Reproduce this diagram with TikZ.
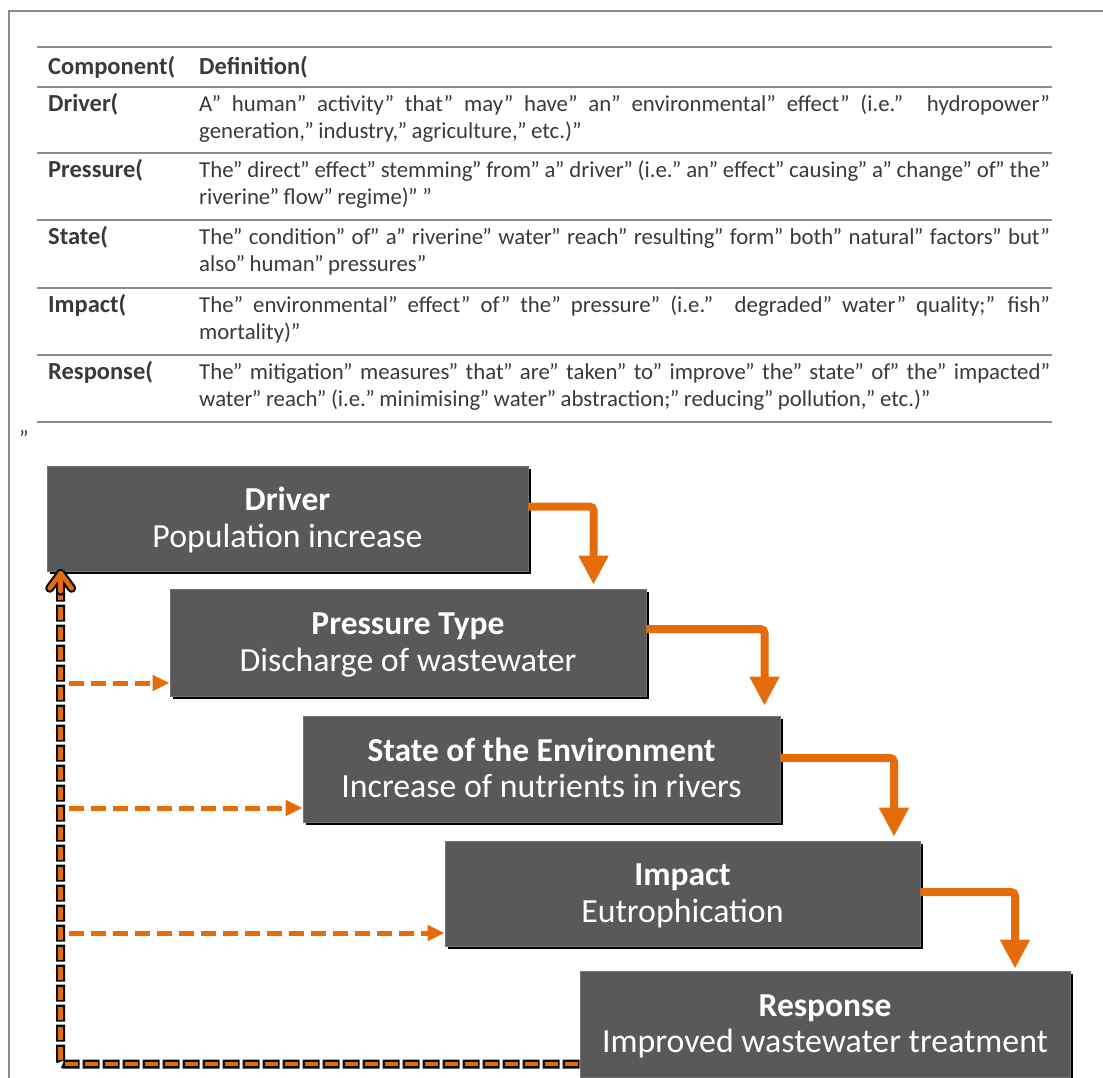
\documentclass[tikz,border=0pt]{standalone}
\usepackage{fontspec}
\setmainfont{Carlito}
\usetikzlibrary{arrows.meta,calc,shadows}
\definecolor{boxgray}{HTML}{595959}
\definecolor{orng}{HTML}{E46C0A}
\definecolor{rulegray}{HTML}{8C8C8C}
\definecolor{framegray}{HTML}{8A8A8A}
\definecolor{txtgray}{HTML}{3A3A3A}
\newcommand{\qq}{\hskip-0.03em”\hskip 0.2em plus 1fil\relax}
\newcommand{\fullline}[1]{\makebox[851pt][s]{#1}}
\begin{document}
\begin{tikzpicture}[x=1pt,y=-1pt,
  tbl/.style={font=\fontsize{22.8}{28}\selectfont, text=txtgray, inner sep=0pt, anchor=base west},
  tblh/.style={tbl, font=\fontsize{24.5}{28}\selectfont\bfseries},
  tblrule/.style={draw=rulegray, line width=1.8pt},
  stage/.style={fill=boxgray, draw=black!55, line width=0.6pt, inner sep=0pt,
    drop shadow={shadow xshift=3pt, shadow yshift=-3pt, fill=black, opacity=1}},
  ttl/.style={font=\fontsize{33.5}{38}\selectfont\bfseries, text=white, inner sep=0pt, anchor=base},
  sub/.style={font=\fontsize{33.8}{38}\selectfont, text=white, inner sep=0pt, anchor=base},
  flow/.style={draw=orng, line width=8pt, rounded corners=4pt, -{Triangle[length=29pt,width=28pt]}},
  fbdash/.style={draw=orng, line width=5pt, dash pattern=on 15pt off 7pt, -{Triangle[length=17pt,width=15pt]}},
  fbout/.style={draw=black!95, line width=9pt, dash pattern=on 17pt off 3pt, rounded corners=3pt},
  fbin/.style={draw=orng, line width=4.5pt, dash pattern=on 13pt off 7pt, dash phase=18pt, rounded corners=3pt},
  chevout/.style={draw=black!95, line width=9pt, line join=round, line cap=round},
  chevin/.style={draw=orng, line width=4.5pt, line join=round, line cap=round}
]
\useasboundingbox (0,0) rectangle (1103,1077);
\fill[white] (0,0) rectangle (1103,1077);

% frame
\draw[draw=framegray, line width=2pt] (9,1080) -- (9,11) -- (1106,11);

% table rules
\foreach \yy in {47,87,153,220,288,355,422}
  \draw[tblrule] (37,\yy) -- (1052,\yy);

% table text
\node[tblh] (h1) at (48,74) {Component(};
\node[tblh] (h2) at (199,74) {Definition(};

\node[tblh] (c1) at (48,111) {Driver(};
\node[tbl] (d1a) at (199,111) {\fullline{A” human” activity” that” may” have” an” environmental” effect” (i.e.” hydropower”}};
\node[tbl] (d1b) at (199,138) {generation,\qq industry,\qq agriculture,\qq etc.)”};

\node[tblh] (c2) at (48,177) {Pressure(};
\node[tbl] (d2a) at (199,177) {\fullline{The\qq direct\qq effect\qq stemming\qq from\qq a\qq driver\qq (i.e.\qq an\qq effect\qq causing\qq a\qq change\qq of\qq the”}};
\node[tbl] (d2b) at (199,204) {riverine\qq flow\qq regime)\qq ”};

\node[tblh] (c3) at (48,244) {State(};
\node[tbl] (d3a) at (199,244) {\fullline{The\qq condition\qq of\qq a\qq riverine\qq water\qq reach\qq resulting\qq form\qq both\qq natural\qq factors\qq but”}};
\node[tbl] (d3b) at (199,271) {also\qq human\qq pressures”};

\node[tblh] (c4) at (48,312) {Impact(};
\node[tbl] (d4a) at (199,312) {\fullline{The” environmental” effect” of” the” pressure” (i.e.” degraded” water” quality;” fish”}};
\node[tbl] (d4b) at (199,339) {mortality)”};

\node[tblh] (c5) at (48,379) {Response(};
\node[tbl] (d5a) at (199,379) {\fullline{The\qq mitigation\qq measures\qq that\qq are\qq taken\qq to\qq improve\qq the\qq state\qq of\qq the\qq impacted”}};
\node[tbl] (d5b) at (199,406) {water\qq reach\qq (i.e.\qq minimising\qq water\qq abstraction;\qq reducing\qq pollution,\qq etc.)”};

\node[tbl] (stray) at (19,446) {”};

% stage boxes
\node[stage, minimum width=481pt, minimum height=105pt] (drv) at (287.5,518.5) {};
\node[stage, minimum width=476pt, minimum height=107pt] (pres) at (408,642.5) {};
\node[stage, minimum width=477pt, minimum height=106pt] (st) at (541.5,769) {};
\node[stage, minimum width=475pt, minimum height=105pt] (imp) at (682.5,893.5) {};
\node[stage, minimum width=490pt, minimum height=106pt] (resp) at (825,1024) {};

\node[ttl] (drvT) at ($(drv.center)+(0,-8)$) {Driver};
\node[sub] (drvS) at ($(drv.center)+(0,28.5)$) {Population increase};
\node[ttl] (presT) at ($(pres.center)+(0,-8)$) {Pressure Type};
\node[sub] (presS) at ($(pres.center)+(0,28.5)$) {Discharge of wastewater};
\node[ttl] (stT) at ($(st.center)+(0,-8)$) {State of the Environment};
\node[sub] (stS) at ($(st.center)+(0,28.5)$) {Increase of nutrients in rivers};
\node[ttl] (impT) at ($(imp.center)+(0,-8)$) {Impact};
\node[sub] (impS) at ($(imp.center)+(0,28.5)$) {Eutrophication};
\node[ttl] (respT) at ($(resp.center)+(0,-8)$) {Response};
\node[sub] (respS) at ($(resp.center)+(0,28.5)$) {Improved wastewater treatment};

% solid flow arrows
\draw[flow, shorten >=4pt] ([yshift=12pt]drv.east) -| ([xshift=185.5pt]pres.north);
\draw[flow, shorten >=10pt] ([yshift=13.5pt]pres.east) -| ([xshift=223pt]st.north);
\draw[flow, shorten >=4pt] ([yshift=11pt]st.east) -| ([xshift=211.5pt]imp.north);
\draw[flow, shorten >=2pt] ([yshift=1.5pt]imp.east) -| ([xshift=190pt]resp.north);

% feedback loop
\coordinate (fbtip) at ([xshift=14pt]drv.south west);
\coordinate (fbx) at (69,0);
\draw[fbout] ([yshift=-40pt]resp.west) -| ([yshift=-8pt]fbtip);
\draw[fbin] ([yshift=-40pt]resp.west) -| ([yshift=-8pt]fbtip);
\draw[chevout] ($(fbtip)+(-11,17)$) -- ($(fbtip)+(0,2)$) -- ($(fbtip)+(11,17)$);
\draw[chevout] ($(fbtip)+(0,2)$) -- ($(fbtip)+(0,20)$);
\draw[chevin] ($(fbtip)+(-11,17)$) -- ($(fbtip)+(0,2)$) -- ($(fbtip)+(11,17)$);
\draw[chevin] ($(fbtip)+(0,2)$) -- ($(fbtip)+(0,20)$);

\coordinate (pin) at ([yshift=-40.5pt]pres.west);
\coordinate (sin) at ([yshift=-39pt]st.west);
\coordinate (iin) at ([yshift=-39.5pt]imp.west);
\draw[fbdash] (pin -| fbx) -- (pin);
\draw[fbdash] (sin -| fbx) -- (sin);
\draw[fbdash] (iin -| fbx) -- (iin);
\end{tikzpicture}
\end{document}
